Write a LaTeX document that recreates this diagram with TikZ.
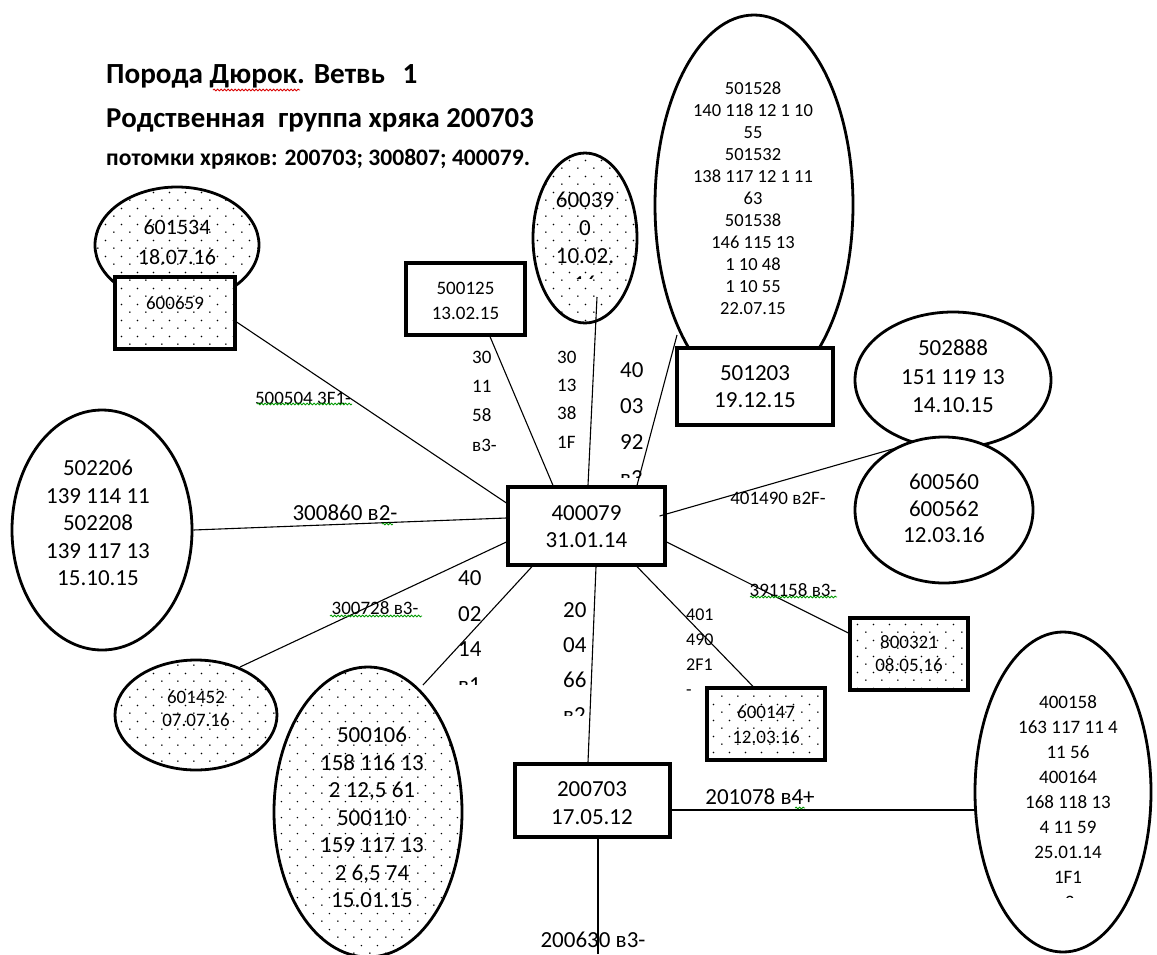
\documentclass[tikz,border=0pt]{standalone}
\usepackage{fontspec}
\setmainfont{Carlito}
\usetikzlibrary{shapes.geometric,patterns.meta,decorations.pathmorphing}

\tikzdeclarepattern{
  name=sdots,
  type=uncolored,
  bounding box={(0pt,0pt) and (16pt,16pt)},
  tile size={(16pt,16pt)},
  code={
    \fill (2pt,2pt) circle (0.85pt);
    \fill (10pt,10pt) circle (0.85pt);
  }
}

\tikzset{
  fs/.style 2 args={font=\fontsize{#1}{#2}\selectfont},
  bx/.style={draw, rectangle, line width=3.2pt, fill=white, inner sep=0pt},
  dbx/.style={bx, postaction={pattern=sdots}},
  el/.style={draw, ellipse, line width=2.8pt, fill=white, inner sep=0pt},
  del/.style={el, postaction={pattern=sdots}},
  conn/.style={line width=1.1pt},
  txt/.style={inner sep=0pt, align=center},
  col/.style={inner sep=0pt, align=left, anchor=west},
  squig/.style={decorate, decoration={snake, amplitude=0.9pt, segment length=3.5pt}, line width=0.8pt},
  ttl/.style={inner sep=0pt, anchor=base west, font=\bfseries\fontsize{#1}{#1}\selectfont},
}

\begin{document}
\begin{tikzpicture}[x=1pt,y=-1pt]
\useasboundingbox (0,0) rectangle (1157,954);

% titles
\node[ttl=29.2] (title1) at (106,83) {Порода Дюрок. Ветвь\hspace{0.6em}1};
\node[ttl=28.8] (title2) at (106,127) {Родственная\hspace{0.45em}группа хряка 200703};
\node[ttl=23.6] (title3) at (106,165) {потомки хряков: 200703; 300807; 400079.};
\draw[squig, red!85!black] (213,90) -- (300,90);

% shapes (under)
\node[del, minimum width=164pt, minimum height=116pt] (e1) at (177,245) {};
\node[txt, fs={22}{30}] (e1t) at (177,242) {601534\\18.07.16};
\node[el, minimum width=198pt, minimum height=380pt] (e3) at (754,205) {};
\node[txt, fs={18.5}{22}] (e3t) at (753,198) {501528\\140 118 12 1 10\\55\\501532\\138 117 12 1 11\\63\\501538\\146 115 13\\1 10 48\\1 10 55\\22.07.15};
\node[el, minimum width=196pt, minimum height=136pt] (e5) at (953,380) {};
\node[txt, fs={23}{28.5}] (e5t) at (953,376.5) {502888\\151 119 13\\14.10.15};
\node[el, minimum width=178pt, minimum height=146pt] (e6) at (944,510) {};
\node[txt, fs={23}{26.5}] (e6t) at (944,508.5) {600560\\600562\\12.03.16};

\node[dbx, minimum width=120pt, minimum height=72pt] (b1) at (175,313) {};
\node[txt, fs={19}{23}] (b1t) at (175,303) {600659};
\node[bx, minimum width=119pt, minimum height=72pt] (b2) at (465.5,299) {};
\node[txt, fs={19}{25}] (b2t) at (465.5,300.5) {500125\\13.02.15};
\node[del, minimum width=104pt, minimum height=170pt] (e2) at (585,238) {};
\begin{scope}
  \clip (530,150) rectangle (640,278.5);
  \node[txt, fs={23}{28}] (e2t) at (585,242) {60039\\0\\10.02.\\16};
\end{scope}
\node[bx, minimum width=156pt, minimum height=77pt] (b3) at (755,386.5) {};
\node[txt, fs={23}{27}] (b3t) at (755,386.5) {501203\\19.12.15};

\node[el, minimum width=180pt, minimum height=240pt] (e4) at (102,530) {};
\node[txt, fs={23}{27.5}] (e4t) at (98,523) {502206\\139 114 11\\502208\\139 117 13\\15.10.15};

\node[bx, minimum width=157pt, minimum height=78pt] (c) at (586.5,526) {};
\node[txt, fs={23}{27}] (ct) at (586.5,526.5) {400079\\31.01.14};

\node[del, minimum width=162pt, minimum height=110pt] (e7) at (196,715) {};
\node[txt, fs={19}{23}] (e7t) at (196,708.5) {601452\\07.07.16};
\node[del, minimum width=188pt, minimum height=290pt] (e8) at (368,812) {};
\node[txt, fs={23}{27.5}] (e8t) at (372,817.5) {500106\\158 116 13\\2 12,5 61\\500110\\159 117 13\\2 6,5 74\\15.01.15};

\node[dbx, minimum width=118pt, minimum height=72pt] (b4) at (766,724) {};
\node[txt, fs={19}{25}] (b4t) at (766,724.5) {600147\\12.03.16};
\node[dbx, minimum width=118pt, minimum height=72pt] (b5) at (909,654) {};
\node[txt, fs={19}{23}] (b5t) at (909,653.5) {800321\\08.05.16};

\node[el, minimum width=176pt, minimum height=320pt] (e9) at (1063,792) {};
\node[txt, fs={19}{25}] (e9t) at (1068,789.5) {400158\\163 117 11 4\\11 56\\400164\\168 118 13\\4 11 59\\25.01.14\\1F1};
\begin{scope}
  \clip (1030,880) rectangle (1110,897);
  \node[txt, fs={19}{25}] (e9x) at (1068,902) {в3-};
\end{scope}

\node[bx, minimum width=155pt, minimum height=73pt] (b6) at (592.5,800.5) {};
\node[txt, fs={23}{28}] (b6t) at (592,803) {200703\\17.05.12};
\coordinate (bot) at (598,954);

% connectors
\draw[conn] ([yshift=-9pt]b1.east) -- ([yshift=23pt]c.west);
\draw[conn] ([xshift=24.5pt]b2.south) -- ([xshift=-33.5pt]c.north);
\draw[conn] ([xshift=12pt,yshift=-59pt]e2.center) -- ([xshift=1.5pt]c.north);
\draw[conn] ([xshift=-77pt,yshift=-130pt]e3.center) -- ([xshift=50.5pt]c.north);
\draw[conn] (e4.east) -- ([yshift=8pt]c.west);
\draw[conn] ([xshift=-7pt,yshift=10pt]c.east) -- ([xshift=-41pt,yshift=64pt]e6.center);
\draw[conn] ([xshift=44pt,yshift=48pt]e7.center) -- ([yshift=-16pt]c.west);
\draw[conn] ([xshift=55pt,yshift=127pt]e8.center) -- ([xshift=-54.5pt]c.south);
\draw[conn] ([xshift=9.5pt]c.south) -- ([xshift=-4.5pt]b6.north);
\draw[conn] ([xshift=50.5pt]c.south) -- ([xshift=-13pt]b4.north);
\draw[conn] ([yshift=-16pt]c.east) -- ([yshift=21pt]b5.west);
\draw[conn] ([yshift=-9.5pt]b6.east) -- ([yshift=-18pt]e9.west);
\draw[conn] ([xshift=5.5pt]b6.south) -- (bot);

% labels
\node[txt, fs={19}{22}] (l1) at (303,398) {500504 3F1-};
\draw[squig, green!60!black] (257,404) -- (352,404);
\node[col, fs={19}{29.3}] (l2) at (472,401) {30\\11\\58\\в3-};
\node[col, fs={19}{28.3}] (l3) at (557,399.5) {30\\13\\38\\1F};
\begin{scope}
  \clip (600,340) rectangle (680,477);
  \node[col, fs={23}{36}] (l4) at (620,424) {40\\03\\92\\в3};
\end{scope}
\node[txt, fs={23}{27}] (l5) at (345,513) {300860 в2-};
\draw[squig, green!60!black] (382,524) -- (393,524);
\node[txt, fs={19}{22}] (l6) at (778,498) {401490 в2F-};
\node[txt, fs={19}{22}] (l7) at (375,608) {300728 в3-};
\draw[squig, green!60!black] (330,616) -- (422,616);
\begin{scope}
  \clip (440,555) rectangle (510,684);
  \node[col, fs={23}{35.7}] (l8) at (458,631.5) {40\\02\\14\\в1};
\end{scope}
\begin{scope}
  \clip (545,585) rectangle (615,715);
  \node[col, fs={23}{35}] (l9) at (563,662.5) {20\\04\\66\\в2};
\end{scope}
\node[col, fs={18}{25}] (l10) at (686,652.5) {401\\490\\2F1\\-};
\node[txt, fs={19}{22}] (l11) at (793,590) {391158 в3-};
\draw[squig, green!60!black] (750,597) -- (837,597);
\node[txt, fs={23}{27}] (l12) at (760,797) {201078 в4+};
\draw[squig, green!60!black] (795,808) -- (805,808);
\node[txt, fs={23}{27}] (l13) at (593,940) {200630 в3-};
\end{tikzpicture}
\end{document}
